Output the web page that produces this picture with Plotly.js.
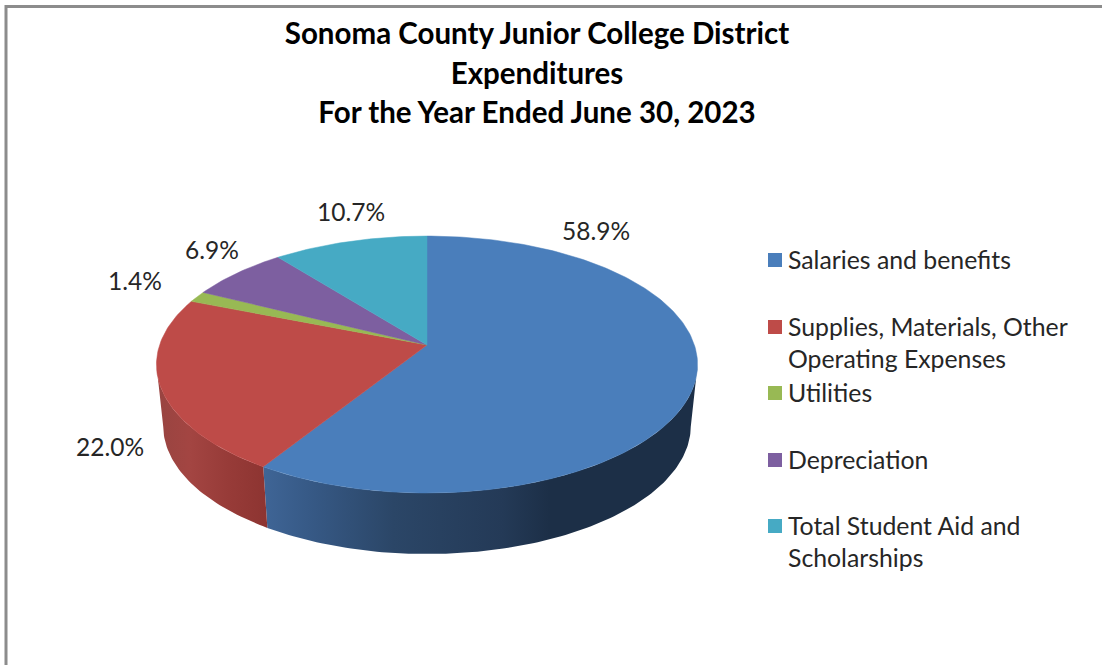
<!DOCTYPE html>
<html>
<head>
<meta charset="utf-8">
<script src="https://cdn.plot.ly/plotly-3.0.1.min.js"></script>
<style>
html,body{margin:0;padding:0;background:#fff;overflow:hidden}
text{font-variant-ligatures:none}
</style>
</head>
<body>
<div id="chart" style="width:1102px;height:665px"></div>
<script>
// Expense categories and their share of total expenditures (percent)
const categories = ["Salaries and benefits", "Supplies, Materials, Other<br>Operating Expenses", "Utilities", "Depreciation", "Total Student Aid and<br>Scholarships"];
const shares = [58.9, 22.0, 1.4, 6.9, 10.7];
const faceColors = ["#4a7ebb", "#be4b48", "#98b954", "#7d5fa0", "#46aac4"];

// Legend rows and value label anchors, in pixel-like axis units
const legendRowY = [260, 327, 393, 460, 526];
const labelX = [596, 110, 135, 212, 351];
const labelY = [230, 446, 280, 249, 211];

// Projection of the disc: a perspective view seen from above the front edge
const CX = 427, K = 0.152;
const topDisc = {R: 267.4, A: 125.5, Y0: 345};
const baseDisc = {R: 260.7, A: 125, Y0: 406.6};
function project(disc, deg) {
  const t = deg * Math.PI / 180, u = Math.sin(t), v = -Math.cos(t), w = 1 - K * v;
  return [CX + disc.R * u / w, disc.Y0 + disc.A * v / w];
}
function arc(disc, a, b) {
  const n = Math.max(2, Math.ceil(Math.abs(b - a))), pts = [];
  for (let i = 0; i <= n; i++) pts.push(project(disc, a + (b - a) * i / n));
  return pts;
}
function polygon(name, pts, extra) {
  return Object.assign({
    type: "scatter", mode: "lines", name, fill: "toself", hoverinfo: "name",
    x: pts.map(p => p[0]), y: pts.map(p => p[1]), showlegend: false
  }, extra);
}

// Cumulative slice boundaries, clockwise from 12 o'clock
const total = shares.reduce((s, v) => s + v, 0);
const bounds = [0];
shares.forEach(v => bounds.push(bounds[bounds.length - 1] + v / total * 360));

// Side walls: only the front-facing part of the rim is visible
const RIM_START = 99, RIM_END = 261;
const wallStops = [
  [[0, "#3f6596"], [0.1, "#375a87"], [0.3, "#2b4667"], [0.55, "#243a57"], [0.66, "#1c2f47"], [1, "#1c2f47"]],
  [[0, "#984441"], [0.3, "#a34542"], [0.65, "#973b38"], [1, "#8d3431"]]
];
const walls = [0, 1].map(i => {
  const a = Math.max(bounds[i], RIM_START), b = Math.min(bounds[i + 1], RIM_END);
  const pts = arc(topDisc, a, b).concat(arc(baseDisc, b, a));
  return polygon(categories[i].replace("<br>", " ") + " side", pts, {
    line: {width: 0, color: "rgba(0,0,0,0)"},
    fillcolor: wallStops[i][0][1],
    fillgradient: {type: "horizontal", colorscale: wallStops[i]}
  });
});

// Top faces of the slices
const faces = shares.map((v, i) => {
  const pts = [[CX, topDisc.Y0]].concat(arc(topDisc, bounds[i], bounds[i + 1]));
  pts.push([CX, topDisc.Y0]);
  return polygon(categories[i].replace("<br>", " "), pts, {
    fillcolor: faceColors[i],
    line: {width: 0.5, color: faceColors[i]}
  });
});

const valueLabels = shares.map((v, i) => ({
  x: labelX[i], y: labelY[i], xref: "x", yref: "y", showarrow: false,
  xanchor: "center", yanchor: "middle", text: v.toFixed(1) + "%",
  font: {family: "Lato, sans-serif", size: 24.5, color: "#262626"}
}));
const legendLabels = categories.map((c, i) => ({
  x: 786, y: legendRowY[i] - 17.5, xref: "x", yref: "y", showarrow: false,
  xanchor: "left", yanchor: "top", align: "left", text: c,
  font: {family: "Lato, sans-serif", size: 24.8, color: "#262626"}
}));
const legendSwatches = categories.map((c, i) => ({
  type: "rect", xref: "x", yref: "y", x0: 768, x1: 782,
  y0: legendRowY[i] - 7, y1: legendRowY[i] + 7,
  fillcolor: faceColors[i], line: {width: 0}
}));
const frame = [
  {type: "line", xref: "x", yref: "y", x0: 6, x1: 1102, y0: 6.5, y1: 6.5, line: {color: "#8c8c8c", width: 3}},
  {type: "line", xref: "x", yref: "y", x0: 6, x1: 6, y0: 5, y1: 665, line: {color: "#8c8c8c", width: 3}}
];

const titleLine = s => '<span style="font-size:29.5px">' + s + "</span>";
Plotly.newPlot("chart", walls.concat(faces), {
  width: 1102, height: 665,
  margin: {l: 0, r: 0, t: 0, b: 0},
  paper_bgcolor: "#fff", plot_bgcolor: "#fff",
  showlegend: false,
  title: {
    text: ["Sonoma County Junior College District", "Expenditures", "For the Year Ended June 30, 2023"].map(titleLine).join("<br>"),
    font: {family: "Lato, sans-serif", size: 30.4, weight: 700, color: "#000"},
    x: 537 / 1102, xanchor: "center", xref: "paper",
    y: 1 - 44 / 665, yanchor: "top", yref: "container"
  },
  xaxis: {range: [0, 1102], visible: false, fixedrange: true},
  yaxis: {range: [665, 0], visible: false, fixedrange: true},
  annotations: valueLabels.concat(legendLabels),
  shapes: frame.concat(legendSwatches)
}, {displayModeBar: false, responsive: false});
</script>
</body>
</html>
